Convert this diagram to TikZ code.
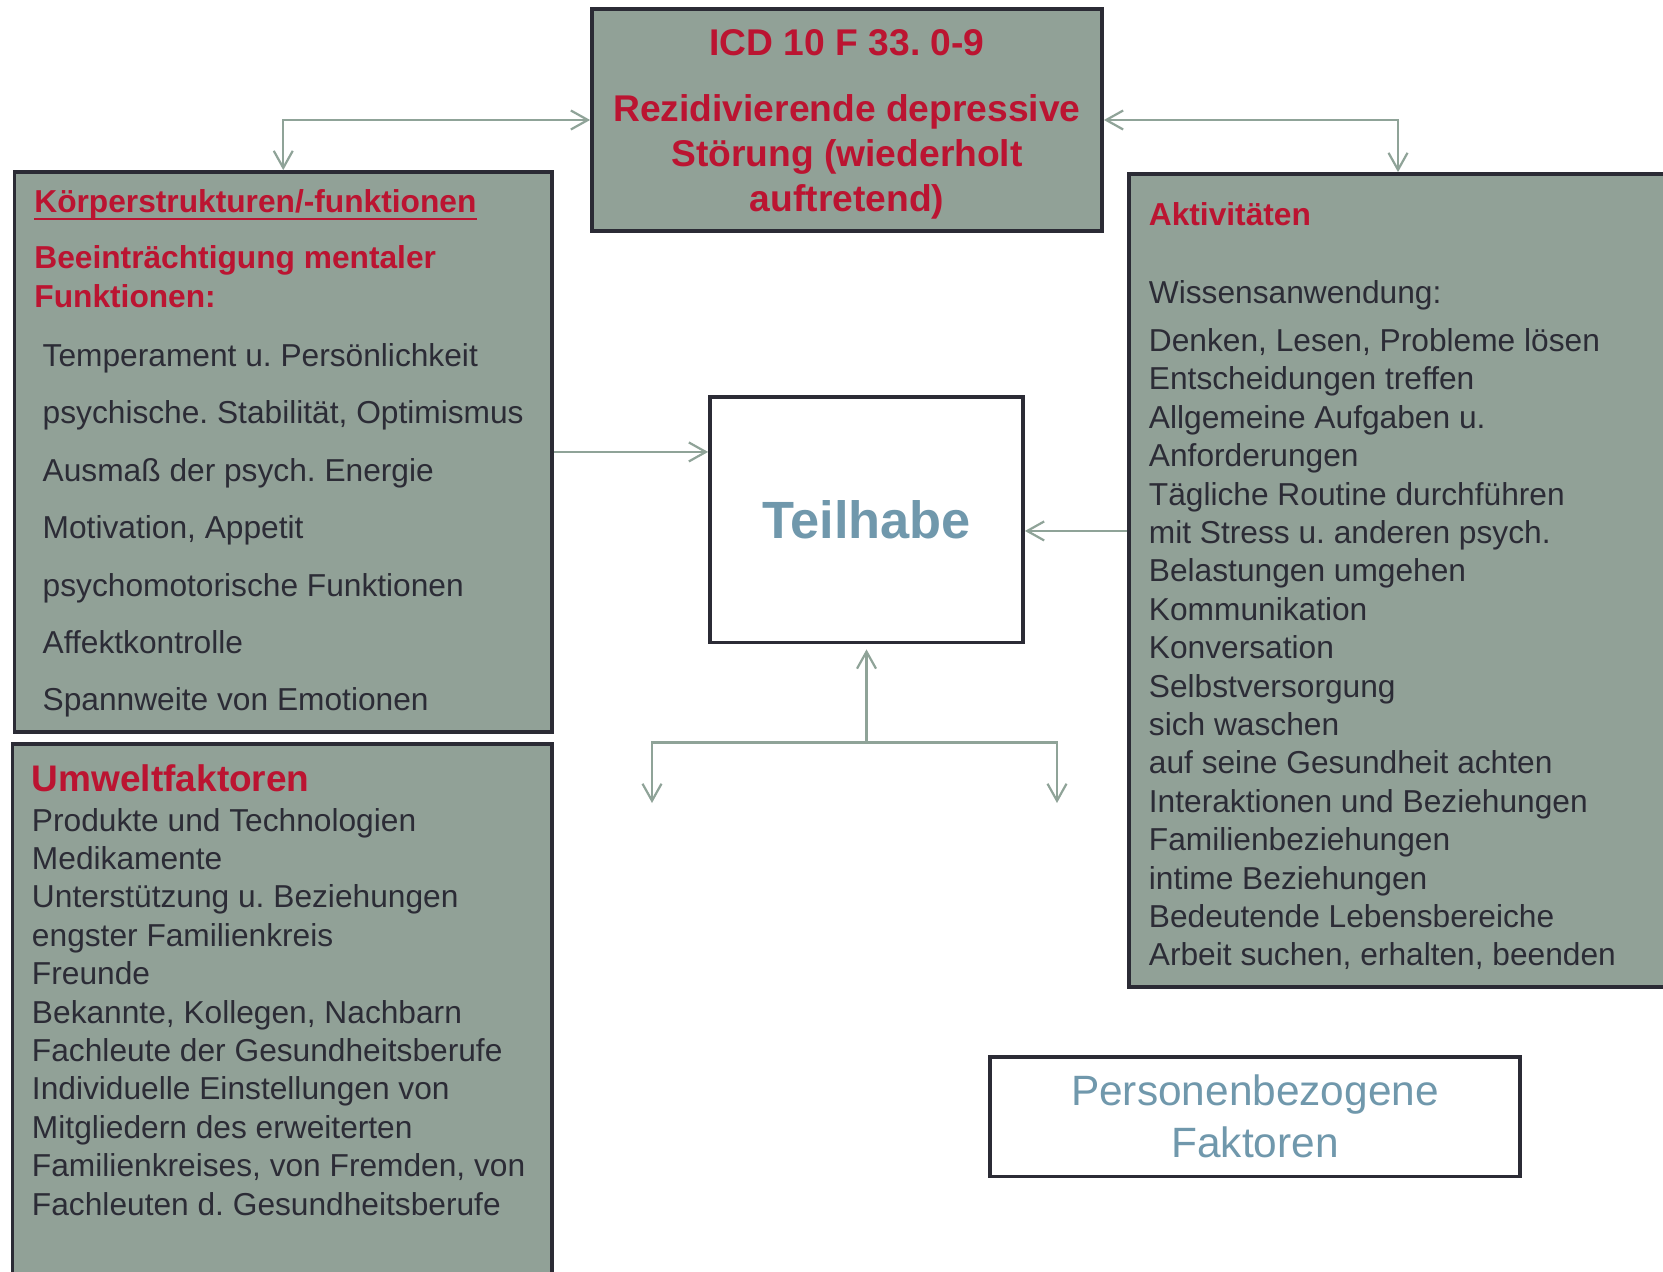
\documentclass[tikz,border=0pt]{standalone}
\usepackage{fontspec}
\setmainfont{Liberation Sans}
\usetikzlibrary{arrows.meta,calc}
\AtBeginDocument{\frenchspacing}

\definecolor{boxfill}{RGB}{145,161,151}
\definecolor{boxline}{RGB}{43,43,53}
\definecolor{icfred}{RGB}{187,20,49}
\definecolor{txtdark}{RGB}{44,44,54}
\definecolor{teilblue}{RGB}{112,152,172}
\definecolor{connline}{RGB}{143,163,152}

\begin{document}
\begin{tikzpicture}[x=0.5pt,y=-0.5pt,
  >={Straight Barb[length=8.5pt,width=9.5pt]},
  panel/.style={rectangle, draw=boxline, line width=1.9pt, fill=boxfill, inner sep=0pt},
  whitepanel/.style={rectangle, draw=boxline, line width=1.9pt, fill=white, inner sep=0pt},
  body/.style={anchor=base west, inner sep=0pt, text=txtdark,
    font=\fontsize{15.85pt}{19pt}\selectfont},
  head/.style={anchor=base west, inner sep=0pt, text=icfred,
    font=\fontsize{15.85pt}{19pt}\selectfont\bfseries},
  bighead/.style={anchor=base west, inner sep=0pt, text=icfred,
    font=\fontsize{18.5pt}{22pt}\selectfont\bfseries},
  icdtext/.style={anchor=base, inner sep=0pt, text=icfred,
    font=\fontsize{18.6pt}{22pt}\selectfont\bfseries},
  conn/.style={draw=connline, line width=1.1pt}
]
\useasboundingbox (0,0) rectangle (1663,1272);
\clip (0,0) rectangle (1663,1272);
\fill[white] (0,0) rectangle (1663,1272);

% ---------- boxes ----------
\node[panel, minimum width=255pt, minimum height=111pt] (icd) at (847,120) {};
\node[panel, minimum width=268.75pt, minimum height=280pt] (koerper) at (283.25,452) {};
\node[panel, minimum width=269.75pt, minimum height=274pt] (umwelt) at (282.25,1018) {};
\node[panel, minimum width=269pt, minimum height=406.5pt] (akt) at (1398,580.5) {};
\node[whitepanel, minimum width=156.5pt, minimum height=122.75pt,
      text=teilblue, font=\fontsize{26.2pt}{30pt}\selectfont\bfseries] (teil) at (866.5,519.75) {Teilhabe};
\node[whitepanel, minimum width=265pt, minimum height=59.75pt, align=center,
      text=teilblue, font=\fontsize{21.2pt}{26pt}\selectfont] (pers) at (1255,1116.75)
      {Personenbezogene\\Faktoren};

% ---------- diagnosis ----------
\node[icdtext] (icd1) at (847,55.5) {ICD 10 F 33. 0-9};
\node[icdtext] (icd2) at (847,121.5) {Rezidivierende depressive};
\node[icdtext] (icd3) at (847,167) {Störung (wiederholt};
\node[icdtext] (icd4) at (847,211.7) {auftretend)};

% ---------- body structures and functions ----------
\node[head] (kt) at (34,212.5) {Körperstrukturen/-funktionen};
\draw[icfred, line width=1.3pt] ([yshift=-3.2pt]kt.base west) -- ([yshift=-3.2pt]kt.base east);
\node[head] (kb1) at (34,269) {Beeinträchtigung mentaler};
\node[head] (kb2) at (34,307.5) {Funktionen:};
\foreach \t [count=\i] in {
  {Temperament u. Persönlichkeit},
  {psychische. Stabilität, Optimismus},
  {Ausmaß der psych. Energie},
  {Motivation, Appetit},
  {psychomotorische Funktionen},
  {Affektkontrolle},
  {Spannweite von Emotionen}}
  \node[body] (kl\i) at (42.3,{366.5+57.4*(\i-1)}) {\t};

% ---------- environmental factors ----------
\node[bighead] (ut) at (31.6,791.5) {Umweltfaktoren};
\foreach \t [count=\i] in {
  {Produkte und Technologien},
  {Medikamente},
  {Unterstützung u. Beziehungen},
  {engster Familienkreis},
  {Freunde},
  {Bekannte, Kollegen, Nachbarn},
  {Fachleute der Gesundheitsberufe},
  {Individuelle Einstellungen von},
  {Mitgliedern des erweiterten},
  {Familienkreises, von Fremden, von},
  {Fachleuten d. Gesundheitsberufe}}
  \node[body] (ul\i) at (31.6,{831+38.4*(\i-1)}) {\t};

% ---------- activities ----------
\node[head] (at) at (1148.5,226) {Aktivitäten};
\node[body] (aw) at (1148.5,303.5) {Wissensanwendung:};
\foreach \t [count=\i] in {
  {Denken, Lesen, Probleme lösen},
  {Entscheidungen treffen},
  {Allgemeine Aufgaben u.},
  {Anforderungen},
  {Tägliche Routine durchführen},
  {mit Stress u. anderen psych.},
  {Belastungen umgehen},
  {Kommunikation},
  {Konversation},
  {Selbstversorgung},
  {sich waschen},
  {auf seine Gesundheit achten},
  {Interaktionen und Beziehungen},
  {Familienbeziehungen},
  {intime Beziehungen},
  {Bedeutende Lebensbereiche},
  {Arbeit suchen, erhalten, beenden}}
  \node[body] (al\i) at (1148.5,{351.5+38.4*(\i-1)}) {\t};

% ---------- connectors ----------
\draw[conn,<->] (koerper.north) |- (icd.west);
\draw[conn,<->] (akt.north) |- (icd.east);

\coordinate (tl) at ([yshift=33.9pt]teil.west);
\coordinate (tr) at ([yshift=-5.6pt]teil.east);
\draw[conn,->] (koerper.east |- tl) -- (tl);
\draw[conn,->] (akt.west |- tr) -- (tr);

\coordinate (hub) at (866.5,742.5);
\coordinate (dl) at (652,803);
\coordinate (dr) at (1057,803);
\draw[conn,->,shorten >=2.5pt] (hub) -- (teil.south);
\draw[conn,->] (hub) -| (dl);
\draw[conn,->] (hub) -| (dr);
\end{tikzpicture}
\end{document}
